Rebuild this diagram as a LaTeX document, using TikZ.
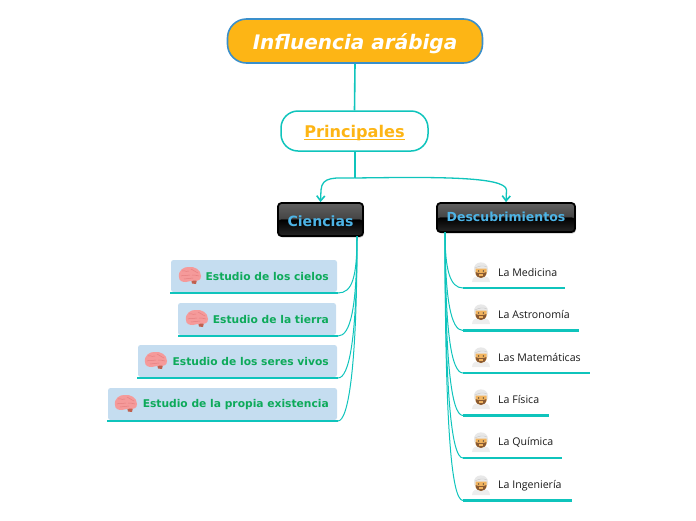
\documentclass[tikz,border=0pt]{standalone}
\usepackage{fontspec}
\setmainfont{DejaVu Sans}
\newfontfamily\lightfont{Open Sans}
\usetikzlibrary{arrows.meta,shadows,calc}
\definecolor{teal1}{HTML}{0FC4BC}
\definecolor{gold1}{HTML}{FDB515}
\definecolor{blue1}{HTML}{3A8FCB}
\definecolor{leafbg}{HTML}{C5DDF0}
\definecolor{leaftx}{HTML}{0DAA5A}
\definecolor{sky1}{HTML}{4DB4E6}
\definecolor{skin1}{HTML}{F2B45F}
\definecolor{beard1}{HTML}{8A5A32}
\definecolor{pink1}{HTML}{F59A9A}
\definecolor{pink2}{HTML}{E57F80}
\definecolor{stem1}{HTML}{C0604F}
\newcommand\thickul[1]{\setbox0=\hbox{#1}\rlap{\rule[-2.6pt]{\wd0}{1.3pt}}\box0}
\newcommand\basetext[2]{\raisebox{-#1}[0pt][0pt]{#2}}
\tikzset{
  x=1pt,y=-1pt,
  rootbox/.style={draw=blue1,line width=1.6pt,fill=gold1,rounded corners=19pt,minimum width=255pt,minimum height=44pt,inner sep=0pt,text=white,font=\fontsize{20}{24}\selectfont\bfseries\itshape},
  mainbox/.style={draw=teal1,line width=1.5pt,fill=white,rounded corners=17pt,minimum width=147pt,minimum height=40pt,inner sep=0pt,text=gold1,font=\fontsize{16.1}{19}\selectfont\bfseries},
  darkbox/.style={draw=black,line width=1.8pt,rounded corners=3.5pt,inner sep=0pt,text=sky1,
    drop shadow={shadow xshift=1pt,shadow yshift=-1.5pt,opacity=.4},
    path picture={
      \fill[top color=black!62,bottom color=black!85] ($(path picture bounding box.north west)$) rectangle ($(path picture bounding box.east)+(0,1)$);
      \fill[top color=black,bottom color=black!85] (path picture bounding box.west) rectangle (path picture bounding box.south east);
    }},
  leafbox/.style={fill=leafbg,rounded corners=2.5pt,minimum height=32pt,inner sep=0pt},
  leaftext/.style={inner sep=0pt,anchor=east,text=leaftx,font=\fontsize{10.7}{13}\selectfont\bfseries},
  mantext/.style={inner sep=0pt,anchor=west,text=black!90,font=\lightfont\fontsize{10.6}{13}\selectfont},
  underl/.style={draw=teal1,line width=2.6pt},
  conn/.style={draw=teal1,line width=1pt},
  conntip/.style={draw=teal1,line width=1.3pt,-{Straight Barb[length=5pt,width=8pt,line width=1.6pt]}},
  pics/brainicon/.style={code={
    \fill[stem1] (1,3) -- (7,3.5) -- (6,8) -- (2,7.5) -- cycle;
    \fill[pink1] (-11,1) .. controls (-12,-6) and (-6,-9) .. (-2,-9) .. controls (5,-10) and (11,-6) .. (11,0) .. controls (11,4) and (8,5.5) .. (4,4.5) .. controls (1,5.5) and (-2,5) .. (-4,6) .. controls (-8,6) and (-11,5) .. (-11,1) -- cycle;
    \draw[pink2,line width=.5pt] (-8,-5) .. controls (-4,-6) and (-3,-3) .. (-1,-5) (-9,0) .. controls (-5,-2) and (-3,1) .. (0,-1) (1,-7) .. controls (3,-4) and (6,-6) .. (8,-3) (2,-1) .. controls (4,-2) and (6,0) .. (9,0) (-6,3) .. controls (-3,2) and (0,3) .. (3,2);
  }},
  pics/manicon/.style={code={
    \fill[black!7] (-9,11) .. controls (-9,6) and (-5,5) .. (0,5) .. controls (5,5) and (9,6) .. (9,11) -- cycle;
    \fill[black!9] (-7,-1) .. controls (-8,-11) and (7,-11) .. (7,-2) -- (7,1) -- (-7,1) -- cycle;
    \fill[skin1] (-5.5,-2.5) -- (5.5,-2.5) -- (5.5,3) .. controls (4,8) and (-4,8) .. (-5.5,3) -- cycle;
    \fill[beard1] (-5.5,1) .. controls (-3,2.5) and (3,2.5) .. (5.5,1) .. controls (5.5,9) and (-5.5,9) .. (-5.5,1) -- cycle;
    \fill[skin1] (-2,3.4) rectangle (2,4.8);
    \fill[black!80] (-2.4,0) circle (.7) (2.4,0) circle (.7);
    \draw[black!22,line width=.4pt] (-6,-3) .. controls (-2,-5) and (2,-6) .. (6,-4);
  }}
}
\begin{document}
\begin{tikzpicture}
\useasboundingbox (0,0) rectangle (696,520);
% nodes
\node[rootbox] (root) at (355,41) {\basetext{8.3pt}{Influencia arábiga}};
\node[mainbox] (main) at (354.5,131) {\basetext{6.3pt}{\thickul{Principales}}};
\node[darkbox,minimum width=85pt,minimum height=33pt,font=\fontsize{14.1}{17}\selectfont\bfseries] (cien) at (320.5,219.5) {\basetext{6.5pt}{Ciencias}};
\node[darkbox,minimum width=138pt,minimum height=29pt,font=\fontsize{12.5}{15}\selectfont\bfseries] (desc) at (506,217.5) {\basetext{4.4pt}{Descubrimientos}};
% connector anchors
\coordinate (cienout) at (357,236);
\coordinate (descout) at (445,232);
\coordinate (mainbot) at (354.5,151);
\coordinate (split) at (354.5,178);
% left leaves
\node[leafbox,minimum width=166pt] (la) at (254,276) {};
\node[leafbox,minimum width=158pt] (lb) at (257,319) {};
\node[leafbox,minimum width=199pt] (lc) at (237.5,361) {};
\node[leafbox,minimum width=229pt] (ld) at (222.5,404) {};
\node[leaftext] (ta) at (329,276.5) {Estudio de los cielos};
\node[leaftext] (tb) at (329,319.5) {Estudio de la tierra};
\node[leaftext] (tc) at (329,361.5) {Estudio de los seres vivos};
\node[leaftext] (td) at (329,404.5) {Estudio de la propia existencia};
\pic at (190,276) {brainicon};
\pic at (197,319) {brainicon};
\pic at (156,361) {brainicon};
\pic at (126,404) {brainicon};
\coordinate (ua0) at (170,293); \coordinate (ua) at (338,293);
\coordinate (ub0) at (178,336); \coordinate (ub) at (338,336);
\coordinate (uc0) at (137,378); \coordinate (uc) at (338,378);
\coordinate (ud0) at (107,421); \coordinate (ud) at (338,421);
\foreach \u in {a,b,c,d} \draw[underl] (u\u0) -- (u\u);
% right leaves
\node[mantext] (ma) at (498,272.5) {La Medicina};
\node[mantext] (mb) at (498,314.5) {La Astronomía};
\node[mantext] (mc) at (498,357.5) {Las Matemáticas};
\node[mantext] (md) at (498,399.5) {La Física};
\node[mantext] (me) at (498,442.5) {La Química};
\node[mantext] (mf) at (498,485.5) {La Ingeniería};
\pic at (481,271) {manicon};
\pic at (481,313) {manicon};
\pic at (481,356) {manicon};
\pic at (481,398) {manicon};
\pic at (481,441) {manicon};
\pic at (481,484) {manicon};
\coordinate (va) at (463,288); \coordinate (va1) at (565,288);
\coordinate (vb) at (463,330.5); \coordinate (vb1) at (579,330.5);
\coordinate (vc) at (463,373); \coordinate (vc1) at (590,373);
\coordinate (vd) at (463,415.5); \coordinate (vd1) at (549,415.5);
\coordinate (ve) at (463,458); \coordinate (ve1) at (562,458);
\coordinate (vf) at (463,500.5); \coordinate (vf1) at (572,500.5);
\foreach \u in {a,b,c,d,e,f} \draw[underl] (v\u) -- (v\u1);
% connectors
\draw[draw=teal1,line width=1.6pt] (root.south) -- (main.north);
\draw[draw=teal1,line width=2pt] (mainbot) -- (split);
\draw[conntip] (split) .. controls (335,178) and (322,176) .. (321,190) -- (cien.north);
\draw[conntip] (split) .. controls (430,177) and (506,176) .. (506.5,190) -- (desc.north);
\draw[conn] (cienout) .. controls (357,278) and (352,293) .. (ua);
\draw[conn] (cienout) .. controls (357,310) and (350,336) .. (ub);
\draw[conn] (cienout) .. controls (357,340) and (349,378) .. (uc);
\draw[conn] (cienout) .. controls (357,370) and (348,421) .. (ud);
\draw[conn] (descout) .. controls (445,270) and (450,288) .. (va);
\draw[conn] (descout) .. controls (445,300) and (451,330.5) .. (vb);
\draw[conn] (descout) .. controls (445,330) and (451,373) .. (vc);
\draw[conn] (descout) .. controls (445,360) and (451,415.5) .. (vd);
\draw[conn] (descout) .. controls (445,390) and (451,458) .. (ve);
\draw[conn] (descout) .. controls (445,420) and (451,500.5) .. (vf);
\end{tikzpicture}
\end{document}
